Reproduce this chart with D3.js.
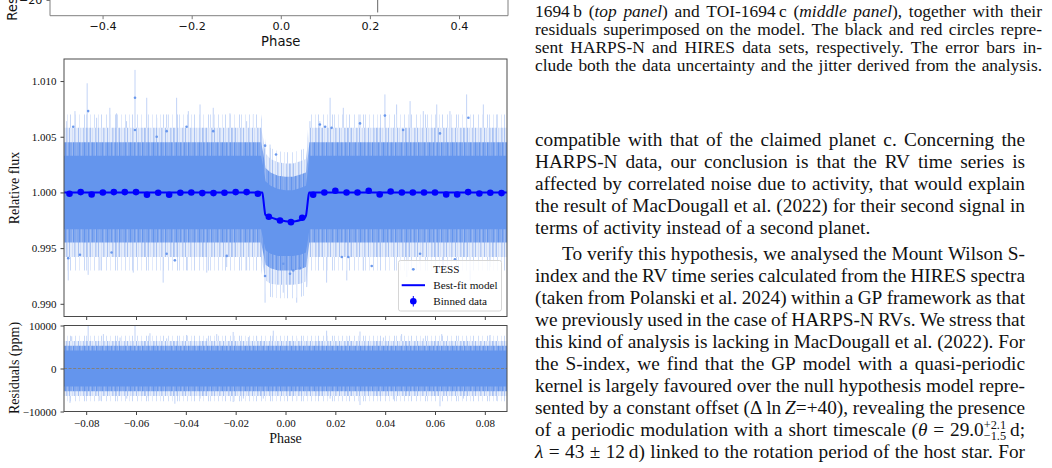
<!DOCTYPE html>
<html>
<head>
<meta charset="utf-8">
<script src="https://cdn.jsdelivr.net/npm/d3@7/dist/d3.min.js"></script>
<style>
  html, body { margin: 0; padding: 0; background: #fff; }
  svg { display: block; }
</style>
</head>
<body>
<svg id="page" width="1052" height="468"></svg>
<script>
// ---------- binned TESS data (blue circles) ----------
var binPhase = [-0.0867, -0.0822, -0.0778, -0.0733, -0.0689, -0.0645, -0.0600, -0.0556, -0.0511, -0.0467,
                -0.0422, -0.0378, -0.0334, -0.0289, -0.0245, -0.0200, -0.0156, -0.0111, -0.0067, -0.0022,
                 0.0022,  0.0067,  0.0111,  0.0156,  0.0200,  0.0245,  0.0289,  0.0334,  0.0378,  0.0422,
                 0.0467,  0.0511,  0.0556,  0.0600,  0.0645,  0.0689,  0.0733,  0.0778,  0.0822,  0.0867];
var binFlux = [0.99988, 1.00003, 0.99982, 1.00000, 1.00003, 1.00003, 1.00003, 0.99979, 0.99997, 0.99979,
               0.99997, 1.00000, 0.99994, 0.99994, 0.99997, 1.00003, 1.00003, 0.99988, 0.99781, 0.99748,
               0.99733, 0.99772, 0.99979, 1.00000, 1.00015, 1.00000, 1.00000, 1.00015, 0.99982, 1.00009,
               1.00000, 1.00000, 1.00000, 1.00000, 0.99982, 0.99982, 1.00003, 0.99991, 0.99997, 0.99994];

// ---------- best-fit transit model ----------
var modelPhase = [-0.0889, -0.0093, -0.0089, -0.0085, -0.0081, -0.0060, -0.0040, -0.0020, 0.0000,
                   0.0020,  0.0040,  0.0060,  0.0078,  0.0083,  0.0087,  0.0091,  0.0095, 0.0889];
var modelFlux  = [1.0000, 1.0000, 0.9994, 0.9986, 0.99800, 0.99778, 0.99762, 0.99750, 0.99742,
                  0.99739, 0.99742, 0.99752, 0.99772, 0.99800, 0.99870, 0.99950, 1.0000, 1.0000];

// ---------- envelope of the TESS point cloud ----------
var envPhase  = [-0.0889, -0.0098, -0.0090, -0.0080, -0.0060, -0.0030, 0.0000, 0.0030, 0.0060, 0.0082, 0.0090, 0.0096, 0.0889];
var fringeTop = [1.0070, 1.0070, 1.0060, 1.0045, 1.0040, 1.0037, 1.0036, 1.0036, 1.0038, 1.0040, 1.0056, 1.0070, 1.0070];
var haloTop   = [1.0058, 1.0058, 1.0049, 1.0035, 1.0030, 1.0027, 1.0026, 1.0026, 1.0028, 1.0030, 1.0045, 1.0058, 1.0058];
var midTop    = [1.0045, 1.0045, 1.0036, 1.0022, 1.0018, 1.0015, 1.0014, 1.0014, 1.0016, 1.0018, 1.0032, 1.0045, 1.0045];
var coreTop   = [1.0033, 1.0033, 1.0024, 1.0010, 1.0006, 1.0003, 1.0002, 1.0002, 1.0004, 1.0006, 1.0020, 1.0033, 1.0033];
var coreBot   = [0.9967, 0.9967, 0.9958, 0.9948, 0.9945, 0.9943, 0.9943, 0.9943, 0.9944, 0.9946, 0.9957, 0.9967, 0.9967];
var midBot    = [0.9955, 0.9955, 0.9946, 0.9935, 0.9932, 0.9930, 0.9930, 0.9930, 0.9931, 0.9933, 0.9945, 0.9955, 0.9955];
var haloBot   = [0.9942, 0.9942, 0.9933, 0.9921, 0.9918, 0.9917, 0.9917, 0.9917, 0.9918, 0.9920, 0.9932, 0.9942, 0.9942];
var fringeBot = [0.9930, 0.9930, 0.9921, 0.9909, 0.9906, 0.9905, 0.9905, 0.9905, 0.9906, 0.9908, 0.9920, 0.9930, 0.9930];

// tallest error bars sticking out of the cloud
var spikeUpPhase = [-0.0878, -0.0845, -0.0796, -0.0758, -0.0705, -0.0678, -0.0638, -0.0604, -0.0557, -0.0517, -0.0477,
                    -0.0437, -0.0390, -0.0343, -0.0290, -0.0223, -0.0156, -0.0129, -0.0062, 0.0098, 0.0138, 0.0179,
                     0.0232,  0.0299,  0.0399,  0.0446,  0.0500,  0.0553,  0.0607,  0.0660, 0.0727, 0.0794, 0.0848];
var spikeUpFlux  = [1.0064, 1.0073, 1.0098, 1.0067, 1.0076, 1.0071, 1.0064, 1.0110, 1.0085, 1.0067, 1.0070,
                    1.0085, 1.0073, 1.0079, 1.0076, 1.0071, 1.0064, 1.0070, 1.0043, 1.0064, 1.0064, 1.0085,
                    1.0076, 1.0070, 1.0088, 1.0079, 1.0082, 1.0073, 1.0079, 1.0073, 1.0088, 1.0079, 1.0070];
var spikeDnPhase = [-0.0872, -0.0792, -0.0745, -0.0611, -0.0491, -0.0397, -0.0316, -0.0236, -0.0156, -0.0082, -0.0009,
                     0.0045,  0.0085,  0.0165,  0.0246,  0.0312,  0.0487,  0.0540,  0.0634,  0.0741, 0.0821];
var spikeDnFlux  = [0.9921, 0.9926, 0.9930, 0.9928, 0.9919, 0.9930, 0.9928, 0.9933, 0.9930, 0.9901, 0.9910,
                    0.9901, 0.9915, 0.9919, 0.9921, 0.9930, 0.9924, 0.9936, 0.9930, 0.9921, 0.9933];

// single TESS points visible outside the cloud
var outPhase = [-0.0792, -0.0604, -0.0604, -0.0852, -0.0397, -0.0477, -0.0290, -0.0517, 0.0399, 0.0138, 0.0159, 0.0185,
                 0.0734,  0.0299,  0.0472,  0.0620, -0.0082, -0.0038,
                -0.0872, -0.0825, -0.0444, -0.0477, -0.0698, -0.0236, -0.0082, -0.0009, 0.0018, 0.0031, 0.0058,
                 0.0346,  0.0226,  0.0252,  0.0540,  0.0680];
var outFlux  = [1.0073, 1.0085, 1.0056, 1.0059, 1.0059, 1.0055, 1.0055, 1.0050, 1.0069, 1.0061, 1.0059, 1.0058,
                1.0067, 1.0062, 1.0056, 1.0053, 1.0042, 1.0034,
                0.9941, 0.9944, 0.9939, 0.9945, 0.9946, 0.9943, 0.9925, 0.9936, 0.9927, 0.9930, 0.9932,
                0.9934, 0.9942, 0.9942, 0.9945, 0.9940];

// ---------- residuals (ppm) ----------
var resEnvPhase = [-0.0889, 0.0889];
var resFringe = [7600, 7600];
var resHalo = [6400, 6400];
var resMid  = [5300, 5300];
var resCore = [4200, 4200];
var resUpPhase = [-0.0858, -0.0792, -0.0731, -0.0664, -0.0604, -0.0544, -0.0477, -0.0397, -0.0316, -0.0276, -0.0210, -0.0149,
                  -0.0116, -0.0049,  0.0045,  0.0165,  0.0246,  0.0299,  0.0393,  0.0466,  0.0553,  0.0627,  0.0727,  0.0821];
var resUpVal   = [7500, 10000, 8000, 7200, 10000, 8200, 7000, 7800, 7000, 8000, 8500, 7300,
                  7500, 8800, 7000, 8800, 7500, 8600, 7200, 8000, 7000, 8000, 7200, 7800];
var resDnPhase = [-0.0865, -0.0745, -0.0637, -0.0557, -0.0444, -0.0343, -0.0210, -0.0169, -0.0089, 0.0045, 0.0179,
                   0.0299,  0.0433,  0.0620,  0.0714,  0.0848];
var resDnVal   = [-8000, -7500, -7000, -6800, -8200, -7000, -7800, -7000, -7000, -7500, -7000,
                  -8500, -7200, -8800, -7000, -7500];

// ---------- tick values ----------
var fluxTicks = [0.990, 0.995, 1.000, 1.005, 1.010];
var resTicks = [-10000, 0, 10000];
var phaseTicks = [-0.08, -0.06, -0.04, -0.02, 0.00, 0.02, 0.04, 0.06, 0.08];
var topPhaseTicks = [-0.4, -0.2, 0.0, 0.2, 0.4];

// RV residual panel above (only its bottom edge is on the page)
var topResPhase = [0.2175];
var topResVal = [-5];
var topResErr = [25];

// ---------- page text ----------
var captionLines = [
  "1694\u2009b (*top panel*) and TOI-1694\u2009c (*middle panel*), together with their",
  "residuals superimposed on the model. The black and red circles repre-",
  "sent HARPS-N and HIRES data sets, respectively. The error bars in-",
  "clude both the data uncertainty and the jitter derived from the analysis."
];
var bodyLines = [
  "compatible with that of the claimed planet c. Concerning the",
  "HARPS-N data, our conclusion is that the RV time series is",
  "affected by correlated noise due to activity, that would explain",
  "the result of MacDougall et al. (2022) for their second signal in",
  "terms of activity instead of a second planet.",
  "To verify this hypothesis, we analysed the Mount Wilson S-",
  "index and the RV time series calculated from the HIRES spectra",
  "(taken from Polanski et al. 2024) within a GP framework as that",
  "we previously used in the case of HARPS-N RVs. We stress that",
  "this kind of analysis is lacking in MacDougall et al. (2022). For",
  "the S-index, we find that the GP model with a quasi-periodic",
  "kernel is largely favoured over the null hypothesis model repre-",
  "sented by a constant offset (\u0394\u2009ln\u2009*Z*=+40), revealing the presence",
  "of a periodic modulation with a short timescale (*\u03b8* = 29.0^{+2.1}_{\u22121.5}\u2009d;",
  "*\u03bb* = 43 \u00b1 12\u2009d) linked to the rotation period of the host star. For"
];

// ======================================================
var svg = d3.select("#page");
var serif = "'Liberation Serif', 'Times New Roman', serif";
var sans = "'DejaVu Sans', sans-serif";

var xMain = d3.scaleLinear().domain([-0.0889, 0.0889]).range([64, 507]);
var yMain = d3.scaleLinear().domain([0.98886, 1.01198]).range([316.5, 59]);
var yRes = d3.scaleLinear().domain([-10000, 10000]).range([411.5, 325.5]);
var xTop = d3.scaleLinear().domain([-0.518, 0.51]).range([50, 508]);
var yTop = d3.scaleLinear().domain([-20, -32.6]).range([0, 15.7]);

// stripe patterns so the bands look like stacked error bars
var defs = svg.append("defs");
function stripes(id, w, base, xs, cols) {
  var p = defs.append("pattern").attr("id", id).attr("patternUnits", "userSpaceOnUse")
    .attr("width", w).attr("height", 8);
  if (base) p.append("rect").attr("width", w).attr("height", 8).attr("fill", base);
  xs.forEach(function(x, i) {
    p.append("rect").attr("x", x).attr("width", 1).attr("height", 8).attr("fill", cols[i % cols.length]);
  });
}
stripes("fringeFill", 31, null, [1, 5, 8, 13, 17, 22, 24, 28], ["#d3e0f9", "#e2eafb", "#c8d8f7"]);
stripes("haloFill", 29, "#e4ecfb", [0, 2, 3, 5, 8, 9, 11, 14, 16, 17, 20, 22, 25, 26, 28],
        ["#b8ccf5", "#cbdaf7", "#a9c2f3", "#d2def8"]);
stripes("midFill", 23, "#82a8ef", [0, 3, 4, 7, 10, 12, 15, 18, 19, 21],
        ["#6a98ec", "#9ab8f1", "#6495ed", "#8cafef"]);

defs.append("clipPath").attr("id", "clipMain").append("rect")
  .attr("x", 64).attr("y", 59).attr("width", 443).attr("height", 257.5);
defs.append("clipPath").attr("id", "clipRes").append("rect")
  .attr("x", 64).attr("y", 325.5).attr("width", 443).attr("height", 86);

function band(g, x, y, ph, top, bot, fill) {
  var area = d3.area()
    .x(function(d, i) { return x(ph[i]); })
    .y0(function(d, i) { return y(bot[i]); })
    .y1(function(d, i) { return y(top[i]); });
  g.append("path").datum(ph).attr("d", area).attr("fill", fill);
}
function spikes(g, x, y, ph, vals, base) {
  g.selectAll(null).data(ph).enter().append("line")
    .attr("x1", function(d) { return x(d); }).attr("x2", function(d) { return x(d); })
    .attr("y1", y(base)).attr("y2", function(d, i) { return y(vals[i]); })
    .attr("stroke", "#c2d3f6").attr("stroke-width", 1);
}
function neg(a) { return a.map(function(v) { return -v; }); }
function styleAxis(g, fam, size, col) {
  g.select(".domain").remove();
  g.attr("font-family", fam).attr("font-size", size);
  g.selectAll(".tick line").attr("stroke", col);
  g.selectAll(".tick text").attr("fill", "#111");
}

// ---------- main light-curve panel ----------
var gMain = svg.append("g").attr("clip-path", "url(#clipMain)");
spikes(gMain, xMain, yMain, spikeUpPhase, spikeUpFlux, 1.0);
spikes(gMain, xMain, yMain, spikeDnPhase, spikeDnFlux, 1.0);
band(gMain, xMain, yMain, envPhase, fringeTop, fringeBot, "url(#fringeFill)");
band(gMain, xMain, yMain, envPhase, haloTop, haloBot, "url(#haloFill)");
band(gMain, xMain, yMain, envPhase, midTop, midBot, "url(#midFill)");
band(gMain, xMain, yMain, envPhase, coreTop, coreBot, "#6495ed");

gMain.selectAll(".out").data(outPhase).enter().append("circle")
  .attr("cx", function(d) { return xMain(d); })
  .attr("cy", function(d, i) { return yMain(outFlux[i]); })
  .attr("r", 1.3).attr("fill", "#6a98ec");

var modelLine = d3.line()
  .x(function(d, i) { return xMain(modelPhase[i]); })
  .y(function(d, i) { return yMain(modelFlux[i]); })
  .curve(d3.curveMonotoneX);
gMain.append("path").datum(modelPhase).attr("d", modelLine)
  .attr("fill", "none").attr("stroke", "#0000ff").attr("stroke-width", 2);

gMain.selectAll(".bin").data(binPhase).enter().append("circle")
  .attr("cx", function(d) { return xMain(d); })
  .attr("cy", function(d, i) { return yMain(binFlux[i]); })
  .attr("r", 3.3).attr("fill", "#0000ff");

// legend
var leg = svg.append("g");
leg.append("rect").attr("x", 398.5).attr("y", 260.5).attr("width", 103).attr("height", 50.5)
  .attr("rx", 2).attr("fill", "#fff").attr("fill-opacity", 0.82).attr("stroke", "#d6d6d6");
leg.append("circle").attr("cx", 413.3).attr("cy", 269.3).attr("r", 1.4).attr("fill", "#6495ed");
leg.append("line").attr("x1", 401.7).attr("x2", 425).attr("y1", 285.2).attr("y2", 285.2)
  .attr("stroke", "#0000ff").attr("stroke-width", 2);
leg.append("line").attr("x1", 413.3).attr("x2", 413.3).attr("y1", 296).attr("y2", 306.5)
  .attr("stroke", "#0000ff").attr("stroke-width", 1);
leg.append("circle").attr("cx", 413.3).attr("cy", 301.2).attr("r", 3.3).attr("fill", "#0000ff");
[["TESS", 269.3], ["Best-fit model", 285.2], ["Binned data", 301.2]].forEach(function(e) {
  leg.append("text").attr("x", 433.3).attr("y", e[1]).attr("dy", "0.33em")
    .attr("font-family", serif).attr("font-size", 11.2).attr("fill", "#111").text(e[0]);
});

// ---------- residual panel ----------
var gRes = svg.append("g").attr("clip-path", "url(#clipRes)");
spikes(gRes, xMain, yRes, resUpPhase, resUpVal, 0);
spikes(gRes, xMain, yRes, resDnPhase, resDnVal, 0);
band(gRes, xMain, yRes, resEnvPhase, resFringe, neg(resFringe), "url(#fringeFill)");
band(gRes, xMain, yRes, resEnvPhase, resHalo, neg(resHalo), "url(#haloFill)");
band(gRes, xMain, yRes, resEnvPhase, resMid, neg(resMid), "url(#midFill)");
band(gRes, xMain, yRes, resEnvPhase, resCore, neg(resCore), "#6495ed");
gRes.append("line").attr("x1", 64).attr("x2", 507).attr("y1", yRes(0)).attr("y2", yRes(0))
  .attr("stroke", "#808080").attr("stroke-width", 1).attr("stroke-dasharray", "3,1.6");

// ---------- axes ----------
var axMainY = svg.append("g").attr("transform", "translate(64,0)")
  .call(d3.axisLeft(yMain).tickValues(fluxTicks).tickFormat(d3.format(".3f")).tickSize(3.5).tickPadding(4));
styleAxis(axMainY, serif, 11, "#444");
var axMainX = svg.append("g").attr("transform", "translate(0,316.5)")
  .call(d3.axisBottom(xMain).tickValues(phaseTicks).tickFormat("").tickSize(3.5));
styleAxis(axMainX, serif, 11, "#444");
var axResY = svg.append("g").attr("transform", "translate(64,0)")
  .call(d3.axisLeft(yRes).tickValues(resTicks).tickFormat(d3.format("d")).tickSize(3.5).tickPadding(4));
styleAxis(axResY, serif, 11, "#444");
var axResX = svg.append("g").attr("transform", "translate(0,411.5)")
  .call(d3.axisBottom(xMain).tickValues(phaseTicks).tickFormat(d3.format(".2f")).tickSize(3.5).tickPadding(4));
styleAxis(axResX, serif, 11, "#444");

svg.append("rect").attr("x", 64).attr("y", 59).attr("width", 443).attr("height", 257.5)
  .attr("fill", "none").attr("stroke", "#4a4a4a").attr("stroke-width", 1);
svg.append("rect").attr("x", 64).attr("y", 325.5).attr("width", 443).attr("height", 86)
  .attr("fill", "none").attr("stroke", "#4a4a4a").attr("stroke-width", 1);

svg.append("text").attr("transform", "translate(14,188) rotate(-90)").attr("text-anchor", "middle")
  .attr("dy", "0.33em").attr("font-family", serif).attr("font-size", 14).attr("fill", "#111").text("Relative flux");
svg.append("text").attr("transform", "translate(14,368) rotate(-90)").attr("text-anchor", "middle")
  .attr("dy", "0.33em").attr("font-family", serif).attr("font-size", 14).attr("fill", "#111").text("Residuals (ppm)");
svg.append("text").attr("x", xMain(0)).attr("y", 443).attr("text-anchor", "middle")
  .attr("font-family", serif).attr("font-size", 14).attr("fill", "#111").text("Phase");

// ---------- bottom of the RV residual panel at the top ----------
var gTop = svg.append("g");
gTop.selectAll(".eb").data(topResPhase).enter().append("line")
  .attr("x1", function(d) { return xTop(d); }).attr("x2", function(d) { return xTop(d); })
  .attr("y1", function(d, i) { return yTop(topResVal[i] + topResErr[i]); })
  .attr("y2", function(d, i) { return yTop(topResVal[i] - topResErr[i]); })
  .attr("stroke", "#666").attr("stroke-width", 1);
var axTopX = gTop.append("g").attr("transform", "translate(0,15.7)")
  .call(d3.axisBottom(xTop).tickValues(topPhaseTicks).tickFormat(d3.format(".1f")).tickSize(3.5).tickPadding(3));
styleAxis(axTopX, sans, 11.2, "#777");
var axTopY = gTop.append("g").attr("transform", "translate(50,0)")
  .call(d3.axisLeft(yTop).tickValues([-20]).tickFormat(d3.format("d")).tickSize(3.5).tickPadding(4));
styleAxis(axTopY, sans, 11.2, "#777");
gTop.append("path").attr("d", "M50,0V15.7H508V0").attr("fill", "none").attr("stroke", "#808080").attr("stroke-width", 1);
gTop.append("text").attr("x", xTop(0)).attr("y", 45.5).attr("text-anchor", "middle")
  .attr("font-family", sans).attr("font-size", 13.2).attr("fill", "#111").text("Phase");
gTop.append("text").attr("transform", "translate(12,20.7) rotate(-90)").attr("text-anchor", "start")
  .attr("dy", "0.35em").attr("font-family", sans).attr("font-size", 13.2).attr("fill", "#111").text("Res");

// ---------- justified text on the right ----------
function setLine(g, src, x0, x1, base, size, justify, indent) {
  var row = g.append("g").attr("font-family", serif).attr("font-size", size).attr("fill", "#111");
  var italic = false;
  var items = [];
  src.split(" ").forEach(function(w) {
    var wg = row.append("g");
    var cx = 0;
    var m = w.match(/^(.*)\^\{(.*?)\}_\{(.*?)\}(.*)$/);
    var parts = m ? [m[1], {sup: m[2], sub: m[3]}, m[4]] : [w];
    parts.forEach(function(p) {
      if (typeof p === "string") {
        p.split("*").forEach(function(seg, k) {
          if (k > 0) italic = !italic;
          if (!seg) return;
          var t = wg.append("text").attr("x", cx).attr("y", 0)
            .attr("font-style", italic ? "italic" : "normal").text(seg);
          cx += t.node().getComputedTextLength();
        });
      } else {
        // stacked upper/lower limits in one text element
        var st = wg.append("text").attr("font-size", size * 0.64);
        var a = st.append("tspan").attr("x", cx).attr("y", -size * 0.33).text(p.sup);
        var b = st.append("tspan").attr("x", cx).attr("y", size * 0.22).text(p.sub);
        cx += Math.max(a.node().getComputedTextLength(), b.node().getComputedTextLength());
      }
    });
    items.push({g: wg, w: cx});
  });
  var start = x0 + (indent || 0);
  var total = d3.sum(items, function(d) { return d.w; });
  var gap = (justify && items.length > 1) ? (x1 - start - total) / (items.length - 1) : size * 0.25;
  var x = start;
  items.forEach(function(it) {
    it.g.attr("transform", "translate(" + x + "," + base + ")");
    x += it.w + gap;
  });
}

var gText = svg.append("g");
captionLines.forEach(function(l, k) {
  setLine(gText, l, 535, 1042, 17 + 18 * k, 17.4, true, 0);
});
bodyLines.forEach(function(l, k) {
  var base = 145.5 + 22 * k + (k >= 5 ? 4 : 0);
  setLine(gText, l, 535, 1025, base, 19.3, k !== 4, k === 5 ? 27 : 0);
});
</script>
</body>
</html>
